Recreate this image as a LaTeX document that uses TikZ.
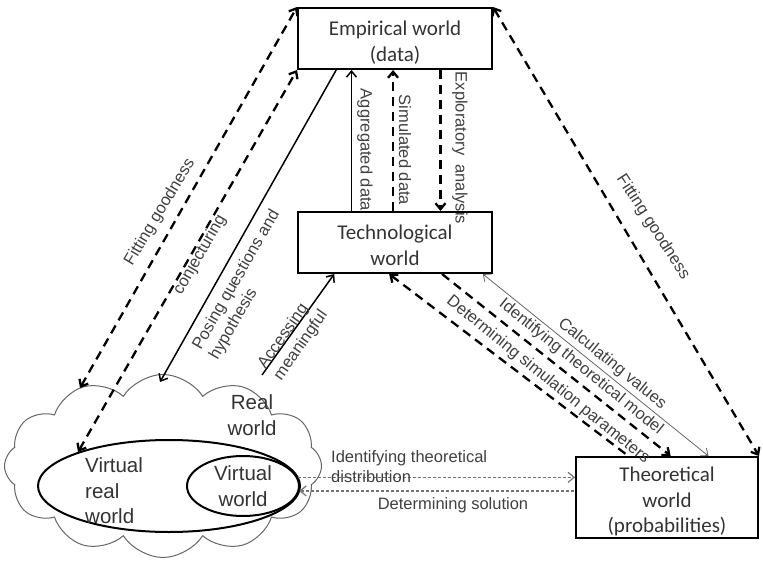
\documentclass[tikz,border=0pt]{standalone}
\usepackage{fontspec}
\setmainfont{Liberation Sans}
\newfontfamily\boxfont{Carlito}
\usetikzlibrary{arrows.meta,shapes.geometric,shapes.symbols,calc}

\tikzset{
  worldbox/.style={draw, line width=2pt, minimum width=194pt, minimum height=61pt},
  boxtxt/.style={align=center, font=\boxfont\fontsize{21}{25.5}\selectfont, text=black!80, inner sep=0pt},
  lbl/.style={font=\fontsize{16.5}{19.5}\selectfont, text=black!75, inner sep=0pt},
  cloudtxt/.style={font=\fontsize{20.5}{25.5}\selectfont, text=black!80, inner sep=0pt},
  bigdash/.style={line width=2.3pt, dash pattern=on 9pt off 6pt},
  finedot/.style={line width=1.2pt, black!55, dash pattern=on 3pt off 2pt},
}

\begin{document}
\begin{tikzpicture}[x=1pt, y=-1pt, >={Straight Barb[length=6pt,width=10pt]}]
    \useasboundingbox (0,0) rectangle (763,564);

    % Real world cloud
    \node[cloud, cloud puffs=12, cloud puff arc=115, aspect=1.7, draw=black!60,
          line width=1pt, fill=white, minimum width=317pt, minimum height=183pt,
          inner sep=0pt] (real) at (163,466) {};
    \node[cloudtxt, align=center] (realtxt) at (252,415) {Real\\world};

    % Virtual worlds inside the cloud
    \node[ellipse, draw, line width=2pt, minimum width=262pt, minimum height=92pt,
          inner sep=0pt] (vreal) at (169,486) {};
    \node[cloudtxt, anchor=west, align=left] (vrealtxt) at (85,491) {Virtual\\real\\world};
    \node[ellipse, draw, line width=2pt, minimum width=112pt, minimum height=60pt,
          inner sep=0pt, cloudtxt, align=center] (virt) at (243,486) {Virtual\\world};

    % The three boxes
    \node[worldbox] (emp) at (395,38.5) {};
    \node[boxtxt] (emptxt) at ([yshift=-4pt]emp.center) {Empirical world\\(data)};
    \node[worldbox] (tech) at (395,242.5) {};
    \node[boxtxt] (techtxt) at ([yshift=-3pt]tech.center) {Technological\\world};
    \node[worldbox, minimum width=182pt, minimum height=81pt] (theo) at (667,497.5) {};
    \node[boxtxt] (theotxt) at ([yshift=-4pt]theo.center) {Theoretical\\world\\(probabilities)};

    % Ends on the cloud
    \coordinate (fitL) at (80,388);
    \coordinate (conjL) at (78,452);
    \coordinate (poseL) at (160,382);
    \coordinate (accL) at (262,375);

    % Empirical <-> real world
    \draw[<->, bigdash] (fitL) -- (emp.north west);
    \draw[<->, bigdash] (conjL) -- (emp.south west);
    \draw[->, line width=1.5pt] ($(emp.south west)!0.2!(emp.south east)$) -- (poseL);
    \draw[->, line width=1.5pt] (accL) -- ($(tech.south west)!0.19!(tech.south east)$);
    \node[lbl, rotate=59] (fitgl) at (160,212) {Fitting goodness};
    \node[lbl, rotate=60] (conj) at (200,255) {conjecturing};
    \node[lbl, rotate=60, align=left] (pose) at (245,285) {Posing questions and\\hypothesis};
    \node[lbl, rotate=55, align=left] (acc) at (293,340) {Accessing\\meaningful};

    % Technological <-> empirical
    \draw[->, line width=1.5pt] ($(tech.north west)!0.278!(tech.north east)$)
        -- ($(emp.south west)!0.278!(emp.south east)$);
    \draw[->, bigdash] ($(tech.north west)!0.49!(tech.north east)$)
        -- ($(emp.south west)!0.49!(emp.south east)$);
    \draw[->, bigdash] ($(emp.south west)!0.732!(emp.south east)$)
        -- ($(tech.north west)!0.732!(tech.north east)$);
    \node[lbl, rotate=-90] (aggr) at (365,150) {Aggregated data};
    \node[lbl, rotate=-90] (simd) at (405,150) {Simulated data};
    \node[lbl, rotate=-90] (expl) at (460,148) {Exploratory\ \ analysis};

    % Empirical <-> theoretical
    \draw[<->, bigdash] (emp.north east) -- (theo.north east);
    \node[lbl, rotate=-57] (fitgr) at (653,227) {Fitting goodness};

    % Technological <-> theoretical
    \draw[<-, bigdash] ($(tech.south west)!0.47!(tech.south east)$)
        -- ($(theo.north west)!0.29!(theo.north east)$);
    \draw[->, bigdash] ($(tech.south west)!0.74!(tech.south east)$)
        -- ($(theo.north west)!0.52!(theo.north east)$);
    \draw[<->, line width=0.8pt, black!60] ($(tech.south west)!0.948!(tech.south east)$)
        -- ($(theo.north west)!0.725!(theo.north east)$);
    \node[lbl, rotate=-39] (detsim) at (548,380) {Determining simulation parameters};
    \node[lbl, rotate=-39] (idmod) at (581,367) {Identifying theoretical model};
    \node[lbl, rotate=-39] (calcv) at (612,364) {Calculating values};

    % Virtual world <-> theoretical
    \draw[->, finedot] (virt.9) -- (virt.9 -| theo.west);
    \draw[<-, finedot] (virt.-5) -- (virt.-5 -| theo.west);
    \node[lbl, anchor=west, align=left] (iddist) at (331,466.5) {Identifying theoretical\\distribution};
    \node[lbl] (detsol) at (453,505) {Determining solution};

\end{tikzpicture}
\end{document}
